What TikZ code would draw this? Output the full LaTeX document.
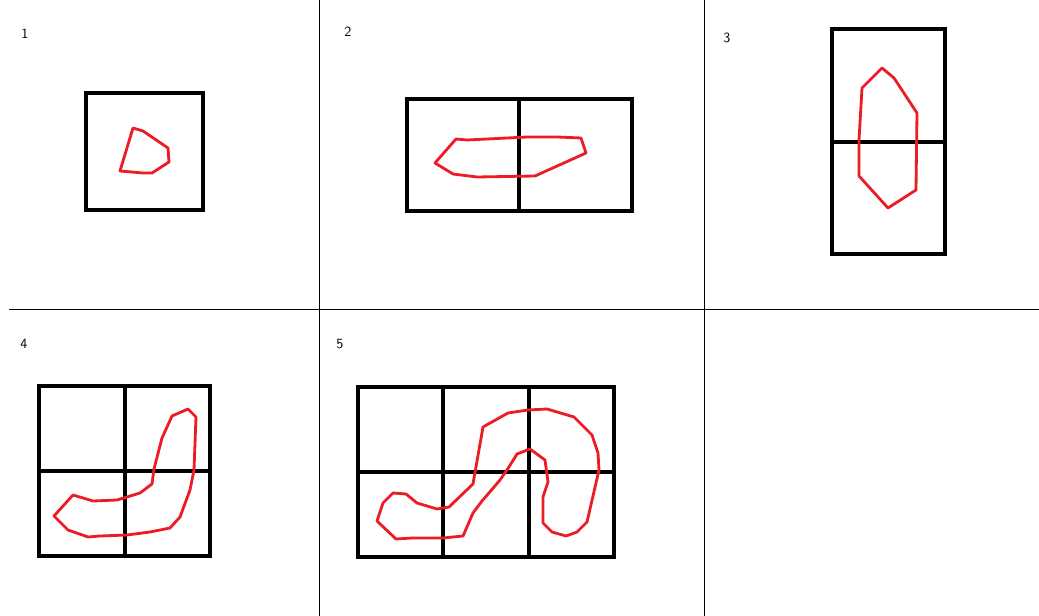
\documentclass[tikz,border=0pt]{standalone}
\definecolor{paintred}{RGB}{237,28,36}
\begin{document}
\begin{tikzpicture}[x=0.025cm,y=-0.025cm,
		cell/.style={line width=2.4pt},
		blob/.style={paintred,line width=2pt,line join=round}]
	\useasboundingbox (0,0) rectangle (1039,616);
	% panel dividers
	\draw[line width=0.6pt] (319,0) -- (319,616);
	\draw[line width=0.6pt] (704,0) -- (704,616);
	\draw[line width=0.6pt] (9,309) -- (1039,309);
	% panel numbers
	\foreach \n/\x/\y in {1/25/34, 2/348/32, 3/727/38, 4/24/344, 5/340/344}
		\node[font=\sffamily\normalsize] (num\n) at (\x,\y) {\n};
	% outer boxes
	\foreach \xa/\ya/\xb/\yb in {86/93/203/210, 407/99/632/211, 832/29/945/254,
			39/386/210/556, 358/387/614/557}
		\draw[cell] (\xa,\ya) rectangle (\xb,\yb);
	% inner cell lines
	\foreach \xa/\ya/\xb/\yb in {519/99/519/211, 832/142/945/142,
			125/386/125/556, 39/471/210/471,
			443/387/443/557, 529/387/529/557, 358/472/614/472}
		\draw[cell] (\xa,\ya) -- (\xb,\yb);
	% red outlines
	\draw[blob] (133,128) -- (143,131) -- (168,148) -- (169,162) -- (152,173)
		-- (143,173) -- (120,171) -- cycle;
	\draw[blob] (456,139) -- (467,140) -- (487,139) -- (507,138) -- (527,137)
		-- (557,137) -- (581,138) -- (586,153) -- (535,176) -- (477,177)
		-- (453,174) -- (435,163) -- cycle;
	\draw[blob] (882,68) -- (894,78) -- (917,113) -- (916,190) -- (888,208)
		-- (859,176) -- (859,140) -- (862,88) -- cycle;
	\draw[blob] (188,409) -- (196,417) -- (194,470) -- (190,490) -- (180,517)
		-- (170,528) -- (150,532) -- (127,535) -- (100,536) -- (88,537)
		-- (68,530) -- (54,516) -- (73,495) -- (93,501) -- (117,500)
		-- (140,493) -- (152,484) -- (154,469) -- (162,438) -- (172,416) -- cycle;
	\draw[blob] (377,521) -- (383,503) -- (393,493) -- (406,494) -- (417,503)
		-- (437,509) -- (449,507) -- (473,484) -- (483,427) -- (508,413)
		-- (528,410) -- (547,409) -- (574,417) -- (592,435) -- (598,453)
		-- (599,470) -- (587,522) -- (577,532) -- (566,536) -- (552,532)
		-- (543,523) -- (543,497) -- (548,482) -- (545,460) -- (530,449)
		-- (517,454) -- (507,470) -- (500,480) -- (482,501) -- (473,513)
		-- (463,536) -- (443,538) -- (412,538) -- (396,539) -- cycle;
\end{tikzpicture}
\end{document}
